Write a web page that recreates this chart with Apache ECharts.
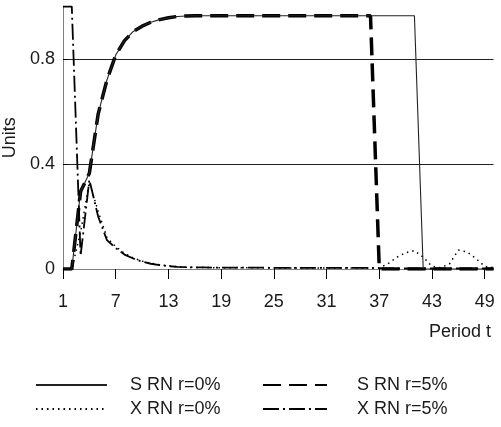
<!DOCTYPE html>
<html>
<head>
<meta charset="utf-8">
<script src="https://cdn.jsdelivr.net/npm/echarts@6/dist/echarts.min.js"></script>
<style>html,body{margin:0;padding:0;background:#fff;}#c{width:501px;height:427px;}</style>
</head>
<body>
<div id="c"></div>
<script>
const periods = Array.from({length: 50}, (_, i) => String(i + 1));
const sRn0 = [0,0,0.295,0.365,0.59,0.72,0.815,0.87,0.905,0.925,0.94,0.95,0.957,0.962,0.964,0.965,0.965,0.965,0.965,0.965,0.965,0.965,0.965,0.965,0.965,0.965,0.965,0.965,0.965,0.965,0.965,0.965,0.965,0.965,0.965,0.965,0.965,0.965,0.965,0.965,0.965,0,0,0,0,0,0,0,0,0];
const sRn5 = [0,0,0.295,0.365,0.59,0.72,0.815,0.87,0.905,0.925,0.94,0.95,0.957,0.962,0.964,0.965,0.965,0.965,0.965,0.965,0.965,0.965,0.965,0.965,0.965,0.965,0.965,0.965,0.965,0.965,0.965,0.965,0.965,0.965,0.965,0.965,0,0,0,0,0,0,0,0,0,0,0,0,0,0];
const xRn0 = [0,0,0.14,0.33,0.22,0.12,0.085,0.06,0.042,0.03,0.022,0.016,0.012,0.009,0.007,0.006,0.006,0.005,0.005,0.005,0.005,0.005,0.005,0.005,0.004,0.004,0.004,0.004,0.004,0.004,0.004,0.004,0.004,0.004,0.004,0.004,0.005,0.02,0.045,0.062,0.07,0.045,0.01,0.005,0.02,0.072,0.065,0.04,0.01,0.005];
const xRn5 = [1,1,0.05,0.34,0.2,0.11,0.08,0.055,0.04,0.028,0.02,0.015,0.011,0.008,0.007,0.006,0.006,0.005,0.005,0.005,0.005,0.005,0.005,0.005,0.004,0.004,0.004,0.004,0.004,0.004,0.004,0.004,0.004,0.004,0.004,0.004,0.003,0.002,0.002,0.002,0.002,0.002,0.002,0.002,0.002,0.002,0.002,0.002,0.002,0.002];
const yTicks = {min: 0, max: 1, interval: 0.4};
const names = ['S RN r=0%', 'S RN r=5%', 'X RN r=0%', 'X RN r=5%'];

const FONT = '"Liberation Sans", Arial, sans-serif';
const chart = echarts.init(document.getElementById('c'), null, {renderer: 'canvas'});
const textBase = {fontFamily: FONT, fontSize: 18, color: '#1a1a1a'};
function mkLegend(name, left, top, w, gap) {
  return {
    data: [name], left: left, top: top, padding: 0, itemWidth: w, itemHeight: 12,
    selectedMode: false, itemStyle: {opacity: 0},
    textStyle: Object.assign({}, textBase, {padding: [0, 0, 0, gap]})
  };
}
chart.setOption({
  animation: false,
  backgroundColor: '#fff',
  grid: {left: 63, right: 7.5, top: 6.5, bottom: 158, outerBoundsMode: 'none', containLabel: false},
  xAxis: {
    type: 'category', data: periods, boundaryGap: false,
    axisLine: {lineStyle: {color: '#808080', width: 1}},
    axisTick: {interval: 5, length: 10, lineStyle: {color: '#000'}},
    axisLabel: Object.assign({interval: 5, margin: 24}, textBase),
    splitLine: {show: false}
  },
  yAxis: {
    type: 'value', min: yTicks.min, max: yTicks.max, interval: yTicks.interval,
    name: 'Units', nameLocation: 'middle', nameGap: 41,
    nameTextStyle: textBase,
    axisLine: {show: true, lineStyle: {color: '#808080', width: 1}},
    axisTick: {show: true, inside: true, length: 4, lineStyle: {color: '#000'}},
    axisLabel: Object.assign({margin: 8, showMaxLabel: false,
      formatter: v => (v === 0 ? '0' : String(v))}, textBase),
    splitLine: {show: true, showMinLine: false, showMaxLine: false, lineStyle: {color: '#222', width: 1}}
  },
  legend: [
    mkLegend(names[0], 35, 376, 71, 18),
    mkLegend(names[1], 262, 376, 64, 25),
    mkLegend(names[2], 35, 400, 71, 18),
    mkLegend(names[3], 262, 400, 64, 25)
  ],
  graphic: [{type: 'text', left: 429, top: 323, style: {text: 'Period t', fontFamily: FONT, fontSize: 18, fill: '#1a1a1a'}}],
  series: [
    {name: names[1], type: 'line', data: sRn5, symbol: 'none', z: 2,
      lineStyle: {color: '#000', width: 3.5, type: [18, 8]}, itemStyle: {color: '#000'}},
    {name: names[0], type: 'line', data: sRn0, symbol: 'none', z: 3,
      lineStyle: {color: '#222', width: 1.1, type: 'solid'}, itemStyle: {color: '#222'}},
    {name: names[2], type: 'line', data: xRn0, symbol: 'none', z: 3,
      lineStyle: {color: '#000', width: 1.5, type: [1.5, 4]}, itemStyle: {color: '#000'}},
    {name: names[3], type: 'line', data: xRn5, symbol: 'none', z: 3,
      lineStyle: {color: '#000', width: 1.8, type: [16, 4, 2, 4]}, itemStyle: {color: '#000'}}
  ]
});
</script>
</body>
</html>
